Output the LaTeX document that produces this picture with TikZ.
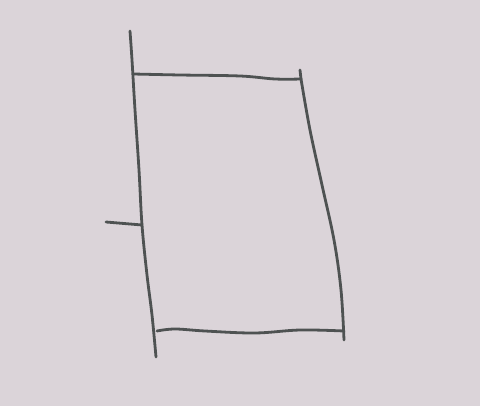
\documentclass[tikz,border=0pt]{standalone}
\begin{document}
\begin{tikzpicture}[x=1pt,y=-1pt,
  pen/.style={draw=inkgray, line width=2.8pt, line cap=round, line join=round}]
\definecolor{paper}{RGB}{219,212,217}
\definecolor{inkgray}{RGB}{78,82,82}
\fill[paper] (0,0) rectangle (480,406);
\useasboundingbox (0,0) rectangle (480,406);
% corners
\coordinate (tl) at (133,74);
\coordinate (tr) at (301,79);
\coordinate (bl) at (157,331);
\coordinate (br) at (344,331);
% left edge
\draw[pen] plot[smooth, tension=0.6] coordinates {(130,31) (132,60) (135,110) (139,170) (142,225) (147,275) (152,315) (156,357)};
% top edge
\draw[pen] plot[smooth, tension=0.6] coordinates {(tl) (180,75) (240,76) (275,79) (tr)};
\draw[pen] (300,70) -- (tr);
% right edge
\draw[pen] plot[smooth, tension=0.6] coordinates {(tr) (310,130) (322,185) (334,240) (341,290) (344,340)};
% bottom edge
\draw[pen] plot[smooth, tension=0.6] coordinates {(bl) (175,329) (205,331) (255,333) (300,330) (br)};
% left tick
\draw[pen] (106,222) -- (142,225);
\end{tikzpicture}
\end{document}
